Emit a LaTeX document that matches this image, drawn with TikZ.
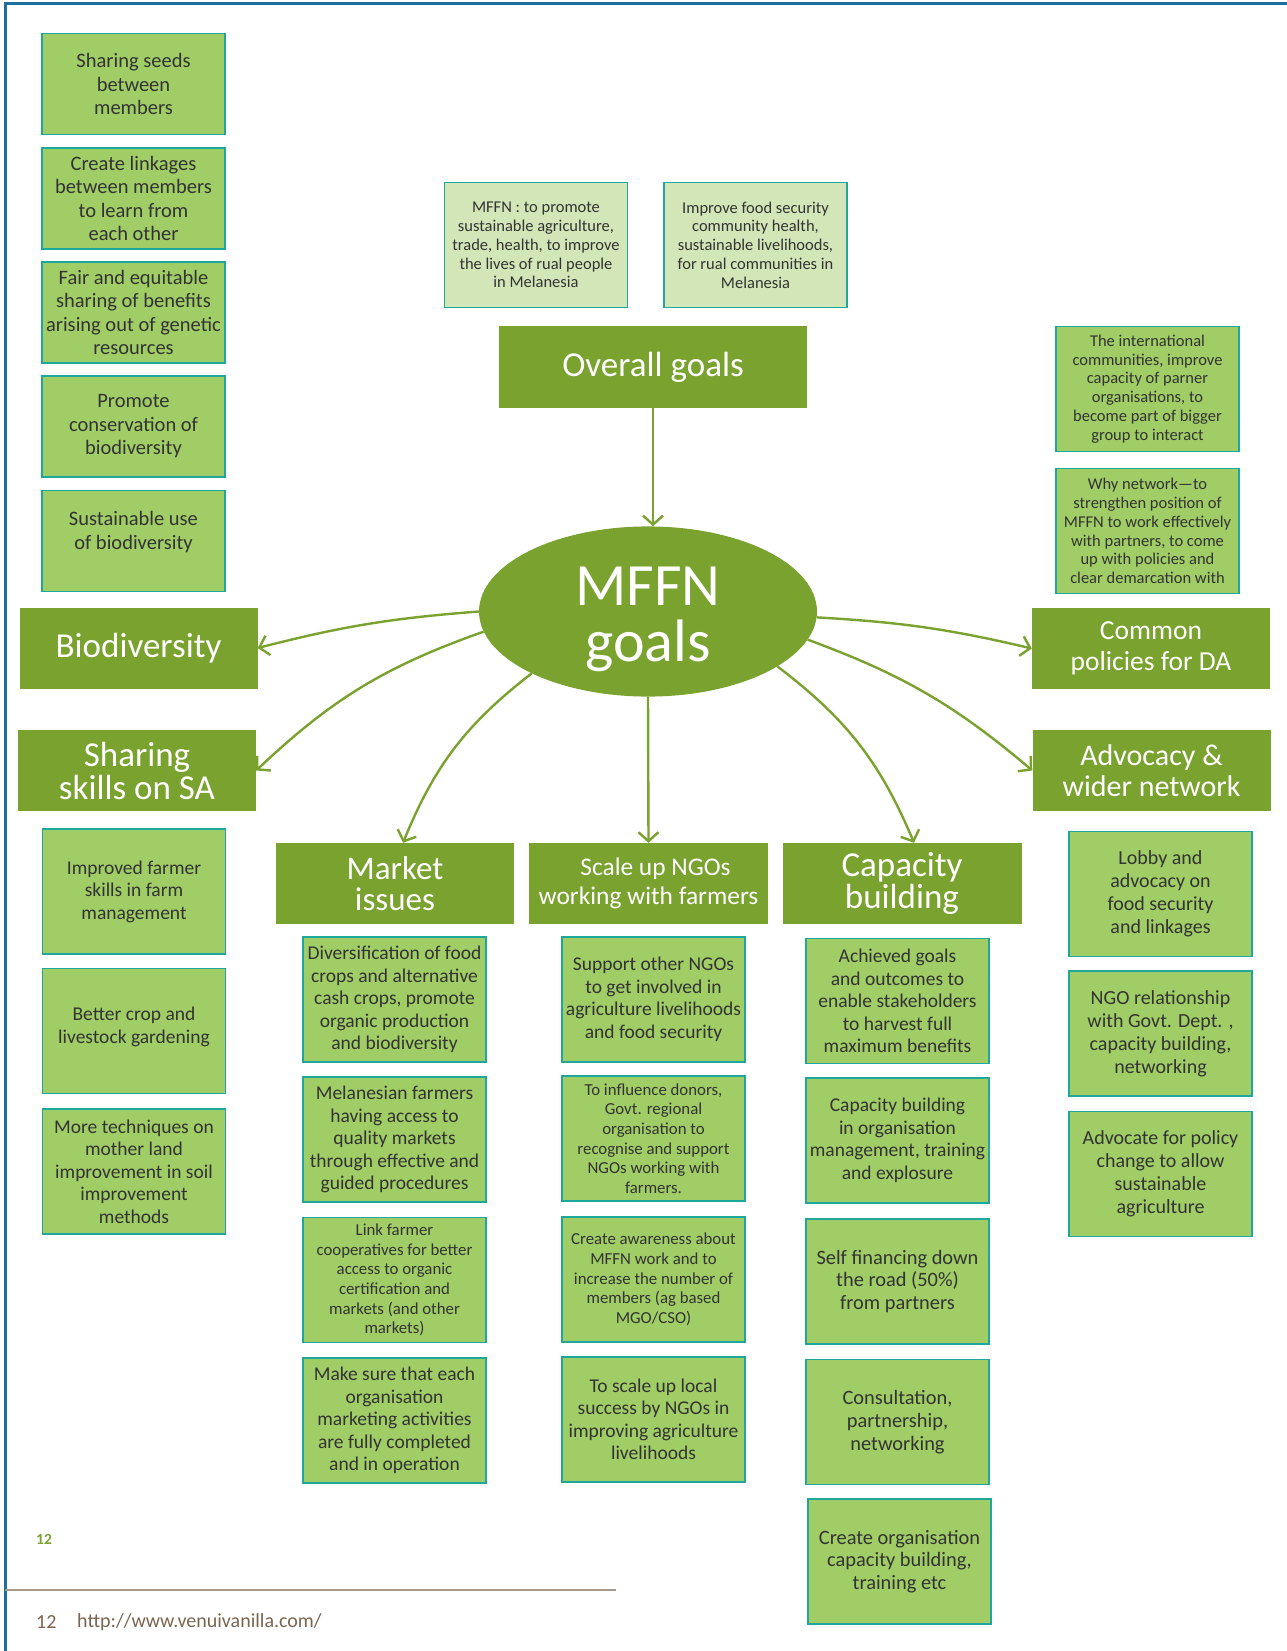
\documentclass[tikz,border=0pt]{standalone}
\usepackage{fontspec}
\setmainfont{Carlito}
\usetikzlibrary{shapes.geometric,arrows.meta}
\definecolor{leaf}{HTML}{79A22F}
\definecolor{itemfill}{HTML}{A0CD65}
\definecolor{palefill}{HTML}{D3E6B7}
\definecolor{boxedge}{HTML}{1EA79C}
\definecolor{ink}{HTML}{333333}
\definecolor{pageblue}{HTML}{1C6F9E}
\definecolor{rulebrown}{HTML}{A89A8A}
\definecolor{footbrown}{HTML}{7A6450}
\tikzset{
  headbox/.style={fill=leaf, text=white, align=center, inner sep=0pt,
    minimum width=238pt, minimum height=81pt},
  itembox/.style={fill=itemfill, draw=boxedge, line width=1.3pt, text=ink,
    align=center, inner sep=0pt, minimum width=183pt, minimum height=125pt,
    font=\fontsize{19.5}{22.5}\selectfont},
  smalltext/.style={font=\fontsize{16.8}{19.7}\selectfont},
  notebox/.style={itembox, fill=palefill, font=\fontsize{16.5}{18.8}\selectfont},
  link/.style={draw=leaf, line width=2.4pt,
    -{Straight Barb[length=9pt,width=20pt]}}
}
\begin{document}
\begin{tikzpicture}[x=1pt, y=-1pt]
\useasboundingbox (0,0) rectangle (1287,1651);
\draw[pageblue, line width=3pt] (5,1651) -- (5,4) -- (1287,4);

% biodiversity items
\begin{scope}[every node/.style={itembox, minimum height=101pt,
    font=\fontsize{20.5}{23.5}\selectfont}]
\node (s1) at (133.5,84) {Sharing seeds\\between\\members};
\node (s2) at (133.5,198.5) {Create linkages\\between members\\to learn from\\each other};
\node (s3) at (133.5,312.5) {Fair and equitable\\sharing of benefits\\arising out of genetic\\resources};
\node (s4) at (133.5,426.5) {Promote\\conservation of\\biodiversity};
\node (s5) at (133.5,541) {Sustainable use\\of biodiversity\\[-2.5pt]};
\end{scope}

% overall goals
\node[notebox] (g1) at (536,245) {MFFN : to promote\\sustainable agriculture,\\trade, health, to improve\\the lives of rual people\\in Melanesia};
\node[notebox] (g2) at (755.5,245) {Improve food security\\community health,\\sustainable livelihoods,\\for rual communities in\\Melanesia};
\node[headbox, minimum width=308pt, minimum height=82pt,
  font=\fontsize{35}{38}\selectfont] (og) at (653,367) {Overall goals};

% common policies notes
\node[itembox, font=\fontsize{16.5}{18.7}\selectfont] (r1) at (1147.5,389) {The international\\communities, improve\\capacity of parner\\organisations, to\\become part of bigger\\group to interact};
\node[itembox, font=\fontsize{16.5}{18.7}\selectfont] (r2) at (1147.5,531) {Why network---to\\strengthen position of\\MFFN to work effectively\\with partners, to come\\up with policies and\\clear demarcation with};

% centre
\node[ellipse, fill=leaf, text=white, inner sep=0pt, minimum width=338pt,
  minimum height=163pt, align=center,
  font=\fontsize{60}{56}\selectfont] (mffn) at (648,611.5) {\rule{0pt}{54pt}MFFN\\goals};

% headers
\node[headbox, font=\fontsize{35}{38}\selectfont] (bio) at (138.5,648) {Biodiversity};
\node[headbox, font=\fontsize{35}{33}\selectfont] (share) at (137,770.5) {Sharing\\skills on SA};
\node[headbox, font=\fontsize{27.5}{31.5}\selectfont] (common) at (1151,648.5) {Common\\policies for DA};
\node[headbox, font=\fontsize{30}{31}\selectfont] (adv) at (1151.5,770.5) {Advocacy \&\\wider network};
\node[headbox, font=\fontsize{33}{31}\selectfont] (mkt) at (395,883.5) {Market\\issues};
\node[headbox, minimum width=239pt, font=\fontsize{25.4}{29.5}\selectfont] (scale) at (648.5,883.5) {\hspace*{14pt}Scale up NGOs\\working with farmers};
\node[headbox, minimum width=239pt, font=\fontsize{35}{32}\selectfont] (cap) at (902,883.5) {Capacity\\building};

% sharing skills items
\node[itembox] (l1) at (134,891.5) {Improved farmer\\skills in farm\\management};
\node[itembox] (l2) at (134,1031) {Better crop and\\livestock gardening\\[-10.5pt]};
\node[itembox] (l3) at (134,1171.5) {More techniques on\\mother land\\improvement in soil\\improvement\\methods};

% market items
\node[itembox] (m1) at (394.5,999.5) {Diversification of food\\crops and alternative\\cash crops, promote\\organic production\\and biodiversity};
\node[itembox] (m2) at (394.5,1139.5) {Melanesian farmers\\having access to\\quality markets\\through effective and\\guided procedures};
\node[itembox, smalltext] (m3) at (394.5,1280) {Link farmer\\cooperatives for better\\access to organic\\certification and\\markets (and other\\markets)};
\node[itembox] (m4) at (394.5,1420.5) {Make sure that each\\organisation\\marketing activities\\are fully completed\\and in operation};

% scale up items
\node[itembox] (n1) at (653.5,999.5) {Support other NGOs\\to get involved in\\agriculture livelihoods\\and food security};
\node[itembox, smalltext] (n2) at (653.5,1138.5) {To influence donors,\\Govt. regional\\organisation to\\recognise and support\\NGOs working with\\farmers.};
\node[itembox, smalltext] (n3) at (653.5,1279.5) {Create awareness about\\MFFN work and to\\increase the number of\\members (ag based\\MGO/CSO)};
\node[itembox] (n4) at (653.5,1419.5) {To scale up local\\success by NGOs in\\improving agriculture\\livelihoods};

% capacity items
\node[itembox] (c1) at (897.5,1001) {Achieved goals\\and outcomes to\\enable stakeholders\\to harvest full\\maximum benefits};
\node[itembox] (c2) at (897.5,1140.5) {Capacity building\\in organisation\\management, training\\and explosure};
\node[itembox, font=\fontsize{20.4}{22.7}\selectfont] (c3) at (897.5,1281.5) {Self financing down\\the road (50\%)\\from partners};
\node[itembox, font=\fontsize{20.4}{22.7}\selectfont] (c4) at (897.5,1422) {Consultation,\\partnership,\\networking};
\node[itembox, font=\fontsize{20.4}{22.7}\selectfont] (c5) at (899.5,1561.5) {Create organisation\\capacity building,\\training etc};

% advocacy items
\begin{scope}[every node/.style={itembox, font=\fontsize{20}{23}\selectfont}]
\node (a1) at (1160.5,894) {Lobby and\\advocacy on\\food security\\and linkages};
\node (a2) at (1160.5,1033.5) {NGO relationship\\with Govt. Dept. ,\\capacity building,\\networking};
\node (a3) at (1160.5,1174) {Advocate for policy\\change to allow\\sustainable\\agriculture};
\end{scope}

% arrows
\draw[link] (og.south) -- (og.south |- mffn.north);
\draw[link] (mffn.west) to[bend right=5] (bio.east);
\draw[link] (mffn.187) to[bend right=12] (share.east);
\draw[link] (mffn.208) to[bend right=15] ([xshift=8pt]mkt.north);
\draw[link] (mffn.south) -- (scale.north);
\draw[link] (mffn.337) to[bend left=15] ([xshift=12pt]cap.north);
\draw[link] (mffn.358) to[bend left=5] (common.west);
\draw[link] (mffn.350) to[bend left=10] (adv.west);

% footer
\node[anchor=west, inner sep=0pt, text=leaf,
  font=\bfseries\fontsize{15.5}{18}\selectfont] (pgno) at (36,1539) {12};
\draw[rulebrown, line width=2pt] (5,1590) -- (616,1590);
\node[anchor=west, inner sep=0pt, text=footbrown,
  font=\fontsize{20}{24}\selectfont] (fnum) at (36,1622) {12};
\node[anchor=west, inner sep=0pt, text=footbrown,
  font=\fontsize{20}{24}\selectfont] (url) at (77,1622) {http://www.venuivanilla.com/};
\end{tikzpicture}
\end{document}
